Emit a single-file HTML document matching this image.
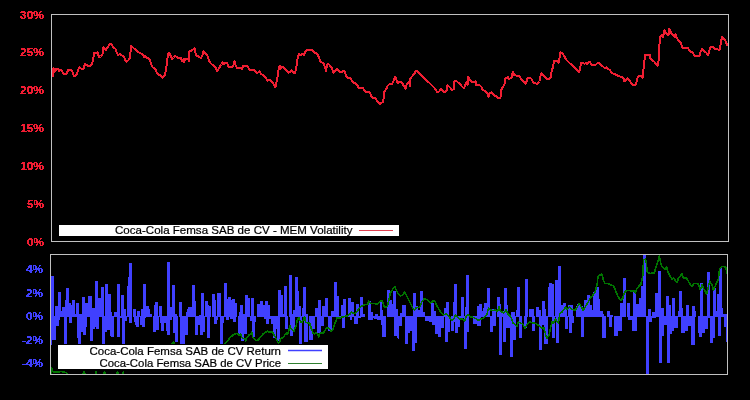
<!DOCTYPE html>
<html><head><meta charset="utf-8">
<style>
html,body{margin:0;padding:0;background:#000;width:750px;height:400px;overflow:hidden;}
svg{position:absolute;left:0;top:0;display:block;will-change:transform;}
.lbl{font-family:"Liberation Sans",sans-serif;font-weight:bold;font-size:11px;}
.leg{font-family:"Liberation Sans",sans-serif;font-size:10.6px;fill:#000;stroke:#000;stroke-width:0.2px;}
</style></head><body>
<svg width="750" height="400" viewBox="0 0 750 400">
<defs>
<filter id="bin" x="0" y="0" width="1" height="1" filterUnits="objectBoundingBox"><feComponentTransfer><feFuncA type="discrete" tableValues="0 1 1"/></feComponentTransfer></filter>
<clipPath id="ct"><rect x="52" y="15" width="676" height="226"/></clipPath>
<clipPath id="cb"><rect x="51" y="255" width="676" height="119"/></clipPath>
</defs>
<rect x="0" y="0" width="750" height="400" fill="#000"/>
<g clip-path="url(#ct)">
<polyline points="52.5,77.5 53,69 53.6,68.3 54.5,72 55.5,70.3 56.5,68.7 58.5,68.7 59.2,71.3 60.8,69.8 62.5,72 64,74 66.5,74 67.5,71.5 68.5,69.6 71,69.6 72.5,72 74,76 75.5,75.5 77,74.5 78,70 79.5,67 81,68.5 83.5,69 85,64 86.5,65 88,66 90.5,66 92,63.5 93,61 94,52.5 95.5,53.5 97.5,52.5 99,57 100.5,56.5 102.5,54 103.5,47 105,49 106,50 108,46.5 110,44 111.5,44.5 113,47 115.5,49 117,53 118,55.5 119.5,54 122,55.5 124,57 125,59.5 126.5,61.5 128,60.5 130,58 131,45.5 132.5,47 134,48.5 136.5,50 138,52 140,53 142.5,54.5 144,57 145,55.5 147,58 147.5,58 149.5,59 150.5,62 152,66.5 153.5,68 155.5,69 156.5,72 158.5,74.5 160.5,75.5 162.5,77.5 164.5,76 166,70 167,62 168,54.5 169.2,52.5 170.5,55.5 171.8,59 173.5,57.5 175,56 177,57 178.5,58 181,58 182,61 183.5,59.5 184,62 185.5,58.5 187.5,58.5 189,61 189.5,51.5 191,51 193,49.5 194.5,48 195,51.5 196.5,55.5 198.5,56.5 201,58 202.5,55 203.5,51.5 205,53.5 207,54.5 208,57.5 209,60.5 210.5,63 212,64.5 214,65.5 215.5,67.5 217,71.5 218.5,69 220,66.5 221.5,64.5 222.5,62 224,64 225.5,62.5 227,62.5 228.5,67 230.5,67 233,66.5 234.5,61.5 235.5,65 237,68 239,67.5 241,67.5 242,69 243,66 246,65.5 248,67 249.5,69.5 252,70 254,70 255.5,72 257.5,73 259.5,71.5 261,74 262,74.4 263.9,75.9 265.75,77.8 267.6,80.6 269.5,79.7 271.4,81.6 273.25,83.4 274.8,86.9 276,85.6 276.7,81.25 277.6,76.9 278.4,71.25 278.75,67.5 279.8,65.6 280.75,68.75 282,66.6 283.6,67.5 285.4,70 286.7,70.6 288.25,72.8 289.8,71.9 291.5,70.5 293,72.5 295,73.5 296,69 297,62.5 298,56.5 299,54 300,55.5 302,54 304,55 305,52 306.5,50.5 308.5,49.5 311.5,49.5 313.5,51.5 315.5,53 317.5,54.5 319,57.5 320,61 322,62.5 324,64 325,67.5 326,71 327,64.5 328,63.5 330,65.5 332,68.5 333.5,72.5 335,71 337,68.5 338,69.5 339.5,71.5 342,72 344,70.5 345.5,74 346.5,77 348,78 350,78 352,80.5 353.5,83 355,83 357,85 359,88 361,87.5 363,88 364.5,90.5 366.5,92 368.4,91.6 369.9,93.1 371,95 371.75,97.25 373.25,98 375.1,98 376.25,99.5 377.75,101.75 379.6,104 381.1,103.25 382.6,102.1 383.4,100.25 383.75,95.75 384.5,91.25 385.25,90.5 386.75,88.25 387.5,86 389.5,84 391.5,84.5 393,82.5 394,79 395,76.5 396,78.5 397,81.5 398,83 400,81.5 401.5,82 403,84.5 404.5,87 405.5,89 406.5,85 408,82.5 409,81.5 410,86 410.5,78.5 412,76.5 414,74 416,71 417,70.5 418.5,72.5 420.5,74 422.5,76.5 424.5,79 426.5,80.5 428.5,82 430.5,84 433,86.5 435,88.5 437,92 439,91.5 441,89 442.5,90 444,92 446,91.5 447,90 447.5,85.5 449,86.5 450.5,88 452,90 454,89 454.5,81 456,80.5 457.5,82 460,84 462,86.5 464,88.5 465.5,84.5 466.5,82 467.5,85 468,76.5 469.5,79 471,81 473,82.5 475.5,81.5 476,85 478,84.5 480,85.5 481.5,87 482.5,89.5 484,90.5 486,92 487.5,94 488.5,96.5 489.5,93 491.5,92.5 493,94 494.5,95.5 496.5,96.5 498.5,98 500.5,97.5 501,91 502,88 503.5,86 505,83 505.5,78.5 507,77.5 508,76.5 508.5,79 510,78.5 511.5,78 512,74.5 513,72 514,75 516,75.5 518.5,75.5 520,77.5 522,80 524,81.5 525.5,84 526.5,81.5 527.5,78 529,77.5 531,78.5 532,79.5 533,82.5 535.5,83.5 538,83.5 539.5,81.5 540,77.5 541.5,73 543,74.5 544.5,77 546.5,78.5 548.5,79 550.5,78 551,74 552,70.5 553,66.5 554,61 555.5,61 557.5,61 558.5,62.5 559.5,58 560.5,52.5 562,53 563.5,55 565,57.5 566.5,60 568.5,62 570.5,64 572.5,65.5 574,67 576,69 578,70.5 579,72.5 580,69.5 581,62.5 583,62.5 584.5,64 586,62.5 587,64 589,61.5 590,62 591,64.5 593,65 595.5,65 597.5,63 599,63 601,65 603,66.5 604.5,68 606.5,67.5 608,69 610,70 611,72.5 613,73.5 615.5,74.5 617.5,75.5 619.5,76.5 621.5,76.5 623.5,78.5 624.5,81.5 626,80 627.5,78.5 629,80 630.5,82 632.5,84.5 634.5,85 636,84.5 637,80 638,76.5 640,75.5 641.5,76 642.5,78 643,72 644,66 644.5,60 645,55 647,54.5 649.5,54.5 650.5,58.5 652,60 654,61.5 656,64 657.5,65.5 658.5,61 659,54 659.5,44 660.5,36 662,35 663,37 664.5,30.5 665.5,32.5 667,34.5 668.5,35 669,28.5 670,29.5 671,33 673,35 675,37.5 675.5,34 676.5,37.5 678.5,40.5 680.5,42.5 681.5,45 682.5,48 685,47.5 687.5,47.5 689,50 690.5,52 692.5,52 694.5,55.5 696.5,56 699.5,55.5 700.5,52 702,49 704,51 706,52.5 708,55 709,52 710.5,47 712,46.5 713.5,47.5 715.5,49 717.5,49.5 719.5,49.5 720.5,45 721,42.5 722,36.5 723.5,38.5 725.5,41 727,44.5 727.5,46" fill="none" stroke="#f01e32" stroke-width="2.0" stroke-linejoin="round" shape-rendering="crispEdges"/>
</g>
<g clip-path="url(#cb)">
<g fill="#4040ff" shape-rendering="crispEdges">
<rect x="51" y="276" width="3" height="41"/>
<rect x="55" y="306" width="3" height="11"/>
<rect x="58" y="292" width="3" height="25"/>
<rect x="61" y="311" width="1" height="6"/>
<rect x="62" y="307" width="3" height="10"/>
<rect x="65" y="300" width="1" height="17"/>
<rect x="66" y="288" width="3" height="29"/>
<rect x="69" y="303" width="2" height="14"/>
<rect x="71" y="305" width="1" height="12"/>
<rect x="72" y="300" width="3" height="17"/>
<rect x="75" y="314" width="1" height="3"/>
<rect x="76" y="303" width="3" height="14"/>
<rect x="79" y="314" width="3" height="3"/>
<rect x="82" y="297" width="3" height="20"/>
<rect x="85" y="303" width="3" height="14"/>
<rect x="88" y="296" width="4" height="21"/>
<rect x="92" y="308" width="3" height="9"/>
<rect x="95" y="281" width="3" height="36"/>
<rect x="98" y="298" width="3" height="19"/>
<rect x="101" y="287" width="3" height="30"/>
<rect x="105" y="284" width="3" height="33"/>
<rect x="108" y="294" width="3" height="23"/>
<rect x="111" y="312" width="1" height="5"/>
<rect x="114" y="312" width="3" height="5"/>
<rect x="117" y="284" width="3" height="33"/>
<rect x="121" y="295" width="3" height="22"/>
<rect x="124" y="309" width="2" height="8"/>
<rect x="127" y="286" width="1" height="31"/>
<rect x="128" y="277" width="1" height="40"/>
<rect x="129" y="263" width="3" height="54"/>
<rect x="133" y="309" width="3" height="8"/>
<rect x="137" y="311" width="3" height="6"/>
<rect x="141" y="309" width="2" height="8"/>
<rect x="143" y="284" width="3" height="33"/>
<rect x="146" y="306" width="3" height="11"/>
<rect x="149" y="309" width="1" height="8"/>
<rect x="150" y="314" width="2" height="3"/>
<rect x="154" y="305" width="1" height="12"/>
<rect x="155" y="302" width="3" height="15"/>
<rect x="159" y="306" width="3" height="11"/>
<rect x="167" y="262" width="3" height="55"/>
<rect x="170" y="307" width="2" height="10"/>
<rect x="172" y="285" width="3" height="32"/>
<rect x="175" y="314" width="2" height="3"/>
<rect x="179" y="302" width="3" height="15"/>
<rect x="186" y="312" width="1" height="5"/>
<rect x="187" y="309" width="1" height="8"/>
<rect x="188" y="307" width="4" height="10"/>
<rect x="192" y="285" width="3" height="32"/>
<rect x="195" y="301" width="1" height="16"/>
<rect x="199" y="315" width="2" height="2"/>
<rect x="201" y="293" width="3" height="24"/>
<rect x="205" y="301" width="3" height="16"/>
<rect x="208" y="305" width="1" height="12"/>
<rect x="209" y="306" width="2" height="11"/>
<rect x="212" y="294" width="3" height="23"/>
<rect x="215" y="300" width="1" height="17"/>
<rect x="217" y="293" width="4" height="24"/>
<rect x="224" y="283" width="3" height="34"/>
<rect x="227" y="299" width="1" height="18"/>
<rect x="228" y="297" width="3" height="20"/>
<rect x="231" y="300" width="1" height="17"/>
<rect x="232" y="299" width="3" height="18"/>
<rect x="235" y="303" width="2" height="14"/>
<rect x="239" y="312" width="1" height="5"/>
<rect x="240" y="305" width="3" height="12"/>
<rect x="243" y="314" width="2" height="3"/>
<rect x="245" y="295" width="3" height="22"/>
<rect x="248" y="298" width="2" height="19"/>
<rect x="251" y="298" width="3" height="19"/>
<rect x="257" y="304" width="3" height="13"/>
<rect x="260" y="301" width="3" height="16"/>
<rect x="263" y="305" width="2" height="12"/>
<rect x="265" y="301" width="3" height="16"/>
<rect x="268" y="305" width="2" height="12"/>
<rect x="278" y="290" width="3" height="27"/>
<rect x="281" y="295" width="2" height="22"/>
<rect x="283" y="314" width="1" height="3"/>
<rect x="284" y="286" width="3" height="31"/>
<rect x="289" y="275" width="3" height="42"/>
<rect x="292" y="314" width="1" height="3"/>
<rect x="293" y="310" width="2" height="7"/>
<rect x="295" y="277" width="3" height="40"/>
<rect x="298" y="291" width="1" height="26"/>
<rect x="299" y="306" width="2" height="11"/>
<rect x="302" y="308" width="1" height="9"/>
<rect x="303" y="287" width="3" height="30"/>
<rect x="306" y="314" width="2" height="3"/>
<rect x="315" y="308" width="3" height="9"/>
<rect x="318" y="300" width="3" height="17"/>
<rect x="322" y="306" width="3" height="11"/>
<rect x="325" y="298" width="3" height="19"/>
<rect x="331" y="311" width="3" height="6"/>
<rect x="334" y="282" width="3" height="35"/>
<rect x="337" y="296" width="2" height="21"/>
<rect x="341" y="305" width="2" height="12"/>
<rect x="343" y="299" width="3" height="18"/>
<rect x="348" y="298" width="3" height="19"/>
<rect x="351" y="302" width="3" height="15"/>
<rect x="356" y="304" width="3" height="13"/>
<rect x="360" y="297" width="3" height="20"/>
<rect x="363" y="314" width="2" height="3"/>
<rect x="368" y="301" width="3" height="16"/>
<rect x="371" y="312" width="2" height="5"/>
<rect x="375" y="314" width="3" height="3"/>
<rect x="380" y="302" width="2" height="15"/>
<rect x="382" y="310" width="1" height="7"/>
<rect x="387" y="290" width="3" height="27"/>
<rect x="390" y="300" width="2" height="17"/>
<rect x="392" y="304" width="1" height="13"/>
<rect x="393" y="291" width="3" height="26"/>
<rect x="396" y="309" width="2" height="8"/>
<rect x="400" y="313" width="2" height="4"/>
<rect x="402" y="305" width="4" height="12"/>
<rect x="413" y="293" width="3" height="24"/>
<rect x="416" y="306" width="2" height="11"/>
<rect x="418" y="310" width="2" height="7"/>
<rect x="420" y="291" width="3" height="26"/>
<rect x="423" y="312" width="2" height="5"/>
<rect x="431" y="303" width="3" height="14"/>
<rect x="434" y="311" width="2" height="6"/>
<rect x="444" y="308" width="2" height="9"/>
<rect x="446" y="302" width="3" height="15"/>
<rect x="453" y="302" width="1" height="15"/>
<rect x="454" y="284" width="3" height="33"/>
<rect x="461" y="297" width="3" height="20"/>
<rect x="465" y="307" width="1" height="10"/>
<rect x="466" y="275" width="3" height="42"/>
<rect x="477" y="306" width="2" height="11"/>
<rect x="479" y="304" width="3" height="13"/>
<rect x="482" y="311" width="1" height="6"/>
<rect x="483" y="308" width="1" height="9"/>
<rect x="484" y="303" width="3" height="14"/>
<rect x="487" y="288" width="3" height="29"/>
<rect x="492" y="309" width="4" height="8"/>
<rect x="497" y="297" width="3" height="20"/>
<rect x="500" y="304" width="1" height="13"/>
<rect x="501" y="311" width="3" height="6"/>
<rect x="504" y="288" width="3" height="29"/>
<rect x="507" y="305" width="1" height="12"/>
<rect x="511" y="312" width="4" height="5"/>
<rect x="516" y="310" width="1" height="7"/>
<rect x="517" y="287" width="3" height="30"/>
<rect x="525" y="279" width="3" height="38"/>
<rect x="529" y="309" width="5" height="8"/>
<rect x="536" y="307" width="3" height="10"/>
<rect x="539" y="310" width="2" height="7"/>
<rect x="542" y="301" width="3" height="16"/>
<rect x="545" y="309" width="1" height="8"/>
<rect x="548" y="287" width="1" height="30"/>
<rect x="549" y="283" width="3" height="34"/>
<rect x="552" y="284" width="2" height="33"/>
<rect x="555" y="280" width="3" height="37"/>
<rect x="558" y="266" width="3" height="51"/>
<rect x="561" y="305" width="2" height="12"/>
<rect x="563" y="303" width="3" height="14"/>
<rect x="566" y="307" width="1" height="10"/>
<rect x="568" y="305" width="5" height="12"/>
<rect x="576" y="306" width="1" height="11"/>
<rect x="577" y="304" width="4" height="13"/>
<rect x="581" y="306" width="2" height="11"/>
<rect x="583" y="310" width="1" height="7"/>
<rect x="584" y="300" width="3" height="17"/>
<rect x="587" y="295" width="3" height="22"/>
<rect x="590" y="305" width="2" height="12"/>
<rect x="592" y="310" width="1" height="7"/>
<rect x="593" y="292" width="3" height="25"/>
<rect x="596" y="286" width="1" height="31"/>
<rect x="597" y="287" width="2" height="30"/>
<rect x="599" y="299" width="1" height="18"/>
<rect x="600" y="311" width="3" height="6"/>
<rect x="603" y="314" width="1" height="3"/>
<rect x="607" y="311" width="3" height="6"/>
<rect x="610" y="315" width="3" height="2"/>
<rect x="620" y="303" width="3" height="14"/>
<rect x="623" y="278" width="3" height="39"/>
<rect x="627" y="303" width="3" height="14"/>
<rect x="633" y="292" width="3" height="25"/>
<rect x="636" y="304" width="3" height="13"/>
<rect x="639" y="298" width="2" height="19"/>
<rect x="641" y="286" width="2" height="31"/>
<rect x="643" y="255" width="3" height="62"/>
<rect x="648" y="309" width="3" height="8"/>
<rect x="652" y="312" width="3" height="5"/>
<rect x="655" y="293" width="3" height="24"/>
<rect x="658" y="271" width="3" height="46"/>
<rect x="661" y="308" width="3" height="9"/>
<rect x="666" y="296" width="3" height="21"/>
<rect x="669" y="305" width="2" height="12"/>
<rect x="672" y="298" width="3" height="19"/>
<rect x="678" y="311" width="1" height="6"/>
<rect x="679" y="291" width="3" height="26"/>
<rect x="682" y="308" width="1" height="9"/>
<rect x="686" y="305" width="3" height="12"/>
<rect x="692" y="306" width="3" height="11"/>
<rect x="695" y="311" width="1" height="6"/>
<rect x="700" y="283" width="3" height="34"/>
<rect x="707" y="272" width="3" height="45"/>
<rect x="713" y="288" width="3" height="29"/>
<rect x="716" y="311" width="1" height="6"/>
<rect x="717" y="294" width="2" height="23"/>
<rect x="719" y="268" width="3" height="49"/>
<rect x="722" y="308" width="1" height="9"/>
<rect x="723" y="314" width="4" height="3"/>
<rect x="51" y="316" width="1" height="29"/>
<rect x="52" y="316" width="4" height="24"/>
<rect x="56" y="316" width="3" height="10"/>
<rect x="59" y="316" width="1" height="4"/>
<rect x="64" y="316" width="3" height="28"/>
<rect x="69" y="316" width="3" height="7"/>
<rect x="77" y="316" width="1" height="22"/>
<rect x="78" y="316" width="3" height="28"/>
<rect x="81" y="316" width="2" height="16"/>
<rect x="83" y="316" width="3" height="19"/>
<rect x="86" y="316" width="1" height="11"/>
<rect x="90" y="316" width="3" height="25"/>
<rect x="93" y="316" width="2" height="13"/>
<rect x="95" y="316" width="1" height="11"/>
<rect x="96" y="316" width="3" height="13"/>
<rect x="102" y="316" width="3" height="28"/>
<rect x="105" y="316" width="2" height="16"/>
<rect x="107" y="316" width="3" height="14"/>
<rect x="110" y="316" width="1" height="20"/>
<rect x="111" y="316" width="3" height="21"/>
<rect x="117" y="316" width="3" height="21"/>
<rect x="120" y="316" width="2" height="2"/>
<rect x="122" y="316" width="3" height="28"/>
<rect x="125" y="316" width="2" height="5"/>
<rect x="129" y="316" width="3" height="7"/>
<rect x="134" y="316" width="1" height="6"/>
<rect x="135" y="316" width="1" height="9"/>
<rect x="136" y="316" width="3" height="11"/>
<rect x="140" y="316" width="2" height="9"/>
<rect x="142" y="316" width="3" height="11"/>
<rect x="145" y="316" width="1" height="2"/>
<rect x="153" y="316" width="3" height="16"/>
<rect x="156" y="316" width="3" height="14"/>
<rect x="160" y="316" width="1" height="7"/>
<rect x="161" y="316" width="3" height="15"/>
<rect x="164" y="316" width="2" height="7"/>
<rect x="166" y="316" width="1" height="15"/>
<rect x="167" y="316" width="3" height="19"/>
<rect x="170" y="316" width="2" height="4"/>
<rect x="173" y="316" width="2" height="17"/>
<rect x="175" y="316" width="3" height="26"/>
<rect x="180" y="316" width="5" height="28"/>
<rect x="185" y="316" width="3" height="19"/>
<rect x="195" y="316" width="3" height="19"/>
<rect x="198" y="316" width="2" height="9"/>
<rect x="200" y="316" width="3" height="19"/>
<rect x="203" y="316" width="2" height="16"/>
<rect x="207" y="316" width="3" height="22"/>
<rect x="214" y="316" width="3" height="8"/>
<rect x="217" y="316" width="1" height="4"/>
<rect x="220" y="316" width="3" height="28"/>
<rect x="223" y="316" width="1" height="7"/>
<rect x="226" y="316" width="3" height="4"/>
<rect x="230" y="316" width="3" height="3"/>
<rect x="233" y="316" width="3" height="6"/>
<rect x="238" y="316" width="3" height="18"/>
<rect x="241" y="316" width="3" height="25"/>
<rect x="244" y="316" width="3" height="18"/>
<rect x="250" y="316" width="2" height="5"/>
<rect x="252" y="316" width="3" height="21"/>
<rect x="255" y="316" width="1" height="6"/>
<rect x="264" y="316" width="2" height="3"/>
<rect x="266" y="316" width="3" height="8"/>
<rect x="269" y="316" width="2" height="3"/>
<rect x="271" y="316" width="2" height="8"/>
<rect x="273" y="316" width="3" height="22"/>
<rect x="276" y="316" width="1" height="13"/>
<rect x="277" y="316" width="3" height="25"/>
<rect x="285" y="316" width="3" height="13"/>
<rect x="290" y="316" width="3" height="20"/>
<rect x="293" y="316" width="2" height="15"/>
<rect x="299" y="316" width="3" height="28"/>
<rect x="304" y="316" width="4" height="26"/>
<rect x="309" y="316" width="4" height="24"/>
<rect x="313" y="316" width="2" height="13"/>
<rect x="317" y="316" width="4" height="17"/>
<rect x="321" y="316" width="3" height="10"/>
<rect x="328" y="316" width="4" height="15"/>
<rect x="338" y="316" width="4" height="2"/>
<rect x="342" y="316" width="3" height="12"/>
<rect x="350" y="316" width="2" height="4"/>
<rect x="354" y="316" width="4" height="8"/>
<rect x="358" y="316" width="3" height="2"/>
<rect x="368" y="316" width="5" height="4"/>
<rect x="373" y="316" width="1" height="2"/>
<rect x="374" y="316" width="3" height="3"/>
<rect x="377" y="316" width="4" height="4"/>
<rect x="381" y="316" width="1" height="9"/>
<rect x="382" y="316" width="4" height="21"/>
<rect x="394" y="316" width="3" height="20"/>
<rect x="397" y="316" width="1" height="22"/>
<rect x="398" y="316" width="1" height="23"/>
<rect x="399" y="316" width="3" height="10"/>
<rect x="405" y="316" width="3" height="28"/>
<rect x="408" y="316" width="2" height="17"/>
<rect x="410" y="316" width="2" height="15"/>
<rect x="412" y="316" width="3" height="35"/>
<rect x="415" y="316" width="2" height="27"/>
<rect x="425" y="316" width="4" height="5"/>
<rect x="429" y="316" width="3" height="6"/>
<rect x="432" y="316" width="3" height="9"/>
<rect x="435" y="316" width="3" height="18"/>
<rect x="438" y="316" width="3" height="21"/>
<rect x="441" y="316" width="3" height="12"/>
<rect x="445" y="316" width="3" height="26"/>
<rect x="448" y="316" width="2" height="16"/>
<rect x="451" y="316" width="3" height="15"/>
<rect x="454" y="316" width="1" height="6"/>
<rect x="455" y="316" width="3" height="17"/>
<rect x="458" y="316" width="2" height="11"/>
<rect x="460" y="316" width="4" height="2"/>
<rect x="464" y="316" width="3" height="33"/>
<rect x="467" y="316" width="2" height="16"/>
<rect x="473" y="316" width="4" height="8"/>
<rect x="477" y="316" width="4" height="10"/>
<rect x="490" y="316" width="3" height="16"/>
<rect x="493" y="316" width="3" height="10"/>
<rect x="499" y="316" width="3" height="39"/>
<rect x="503" y="316" width="3" height="26"/>
<rect x="506" y="316" width="4" height="12"/>
<rect x="510" y="316" width="3" height="41"/>
<rect x="513" y="316" width="3" height="24"/>
<rect x="519" y="316" width="3" height="22"/>
<rect x="524" y="316" width="3" height="12"/>
<rect x="532" y="316" width="3" height="15"/>
<rect x="539" y="316" width="3" height="34"/>
<rect x="542" y="316" width="2" height="9"/>
<rect x="544" y="316" width="4" height="28"/>
<rect x="552" y="316" width="3" height="22"/>
<rect x="556" y="316" width="3" height="27"/>
<rect x="565" y="316" width="3" height="13"/>
<rect x="569" y="316" width="3" height="17"/>
<rect x="572" y="316" width="2" height="7"/>
<rect x="581" y="316" width="3" height="21"/>
<rect x="602" y="316" width="4" height="22"/>
<rect x="609" y="316" width="3" height="11"/>
<rect x="614" y="316" width="4" height="20"/>
<rect x="618" y="316" width="4" height="15"/>
<rect x="628" y="316" width="4" height="4"/>
<rect x="632" y="316" width="5" height="15"/>
<rect x="646" y="316" width="3" height="58"/>
<rect x="649" y="316" width="3" height="6"/>
<rect x="652" y="316" width="4" height="2"/>
<rect x="659" y="316" width="3" height="47"/>
<rect x="662" y="316" width="2" height="20"/>
<rect x="664" y="316" width="3" height="9"/>
<rect x="667" y="316" width="3" height="47"/>
<rect x="670" y="316" width="2" height="18"/>
<rect x="672" y="316" width="2" height="15"/>
<rect x="674" y="316" width="4" height="12"/>
<rect x="681" y="316" width="4" height="17"/>
<rect x="685" y="316" width="3" height="15"/>
<rect x="688" y="316" width="3" height="10"/>
<rect x="691" y="316" width="4" height="29"/>
<rect x="698" y="316" width="1" height="17"/>
<rect x="699" y="316" width="3" height="21"/>
<rect x="702" y="316" width="3" height="17"/>
<rect x="705" y="316" width="3" height="13"/>
<rect x="708" y="316" width="2" height="2"/>
<rect x="710" y="316" width="3" height="27"/>
<rect x="713" y="316" width="2" height="22"/>
<rect x="718" y="316" width="3" height="20"/>
<rect x="724" y="316" width="2" height="11"/>
<rect x="726" y="316" width="1" height="26"/>
</g>
<polyline points="51,374 51.6,368 52.5,371.5 55,372 58,372 61,371.5 64,372 66.5,373 69,376 82,376 84,372 86,376 94.5,376 96,372 97.5,376 103,376 104.5,372 106,376 116,376 117.5,372 119,376 122,376 123.5,372 126,364 135,358 150,354 165,350 171,345 173.5,342.3 176,346 185,356 200,360 212,355 220,349 224.8,343.6 228.8,339.6 230,337.2 231.7,336.4 233.3,334.7 235,333.9 236.2,333.3 237.9,333.7 239.1,335.6 240.7,333.9 241.6,336.8 243.2,338.4 244.9,338.4 245.7,340.9 246.5,338 248.2,336 249.8,334.3 251,333.9 251.9,332.2 252.7,336.8 254.4,339.3 256,340.5 258.1,340.1 259.8,338 261.4,336 263,333.9 264.7,332.7 266.4,331.8 267.6,331 268.8,331.8 271.3,331.8 272.6,331.8 273.8,334.7 275.5,337.6 277.1,340.9 278.3,343 279.6,342.2 280.4,338.9 282.1,338 283.7,337.2 285,334.7 286.2,333.1 287.4,334.3 288.7,331 289.9,325.6 290.8,328.1 292.5,330.2 293.7,331.4 295,328.5 296.2,325.2 297.4,319.9 299.1,317.4 299.9,320.3 301.2,322.3 302.4,321.9 303.6,319 304.5,316.5 305.7,322.3 307.4,322.7 309.4,322.7 310.7,326.5 311.9,330.2 313.1,333.5 314.8,333.9 316.4,332.7 317.7,333.9 318.9,336.8 319.3,333.9 321,332.7 323.1,333.5 324.7,331 326.4,328.1 328,327.7 329.3,328.9 330.9,331 332.6,329.8 334.2,325.6 335.9,321.1 337.1,317.8 338.8,317.8 340.4,318.2 341.7,317 343.7,317 345.4,316.1 347.9,315.7 349.5,314.5 351.5,312.1 354.6,313.7 357.7,310.6 360,307.5 363.1,305.2 365.5,304.4 367.8,304.4 368.6,301.3 370.9,303.3 373.2,303.6 377.1,303.9 379.4,302.1 381.7,300.5 383.3,303.6 384.1,306.7 387.2,306.7 389.5,297.4 390,293.5 391.6,291.2 393.1,288.1 394.7,286.6 396.2,289.7 397.8,293.5 400.1,295.9 402.4,295.1 404.7,292 406.3,295.1 408.6,299.7 410.9,304.4 413.3,309 414.8,309.8 416.4,307.5 418.7,307.5 420.2,306.7 421.8,302.1 424.1,299 427.2,299.7 430.3,302.8 431.9,302.1 433.4,300.5 435,301.3 436.5,305.2 438.8,309 441.2,312.9 443.5,315.2 445.8,313.7 447.4,315.2 449.2,316.7 451.5,320.5 453.8,319 455.4,315.1 457.7,317.4 460,319 462.4,319 464.7,321.3 466.2,316.7 467.8,314.3 470.1,316.7 473.2,317.4 476.3,319 478.6,320.5 481,319 483.3,318.2 485.6,315.9 487.2,313.6 488.5,308 490.5,309.8 492.8,310.6 495.2,309.8 497.5,311.4 499,306.7 500.6,311.4 503.7,313 506,309.8 507.6,313.7 509.9,316 511.3,318.2 512.8,322.9 515.1,324.4 516.7,326.7 518.2,322.1 520.6,322.9 522.9,324.4 525.2,328.3 527.5,323.6 529.9,322.1 533,322.9 536.1,323.6 538.4,325.2 541.5,328.3 543.8,327.5 545.4,333.7 546.9,338.4 549.2,334.5 550.8,326.7 552.3,321.3 553.9,322.9 555.4,319 557,321.3 558.5,322.9 559.7,313.5 561.7,312.3 563.8,309.8 565.4,306.9 566.3,309 567.9,308.6 569.6,306.9 571.2,309 572.9,309.8 575.4,309.8 577,307.3 579.1,303.6 580.3,305.2 582,307.7 583.2,310.2 584.9,307.7 586.5,304.8 588.6,301.5 590.6,297.4 592.7,295.7 594.4,292.9 595.6,290.8 596.4,286.7 597.3,283 598,276.5 600.3,274.9 601.9,274.2 603.4,280.4 605,283.5 608.1,283.5 610.4,285 613.5,285.8 615.8,291.2 618.1,296.6 620.5,300.5 622.8,298.2 624.3,292.8 626.7,290.4 629,290.4 631.3,291.2 633.6,290.4 635.2,292.8 636.7,288.9 639.1,285.8 640.8,284.5 642.7,276.5 643.6,260 645.4,259 646.3,263 647.2,272 648,272.5 650,273.4 654.4,273 655.8,267.5 658,261.2 659.4,255.8 660.3,261.2 661.6,265.7 663,267.5 665.2,269.3 666.6,266.6 667.9,272 669.7,275.6 672,279.2 673.8,277.9 675.6,281 677,282.8 678.7,277.4 680.2,276.5 681.8,273.4 683.3,278 686.4,278 688.7,281.9 691.8,286.6 694.2,283.5 698,283.5 700.4,290.4 701.9,285 704.2,289.7 706.6,294.3 708.1,288.1 709.7,281.1 712,285 713.5,290.4 715.9,284.2 718.2,279.6 719.7,268.7 722.1,266.4 724.4,266.4 725.9,268 727.5,274.2" fill="none" stroke="#007400" stroke-width="1.6" stroke-linejoin="round" shape-rendering="crispEdges"/>
</g>
<!-- frames -->
<rect x="51.5" y="14.5" width="677" height="227" fill="none" stroke="#c0c0c0" stroke-width="1" shape-rendering="crispEdges"/>
<rect x="50.5" y="254.5" width="677" height="120" fill="none" stroke="#c0c0c0" stroke-width="1" shape-rendering="crispEdges"/>
<g class="lbl" fill="#f01e32" text-anchor="end" filter="url(#bin)">
<text x="44" y="19" textLength="24" lengthAdjust="spacingAndGlyphs">30%</text>
<text x="44" y="56" textLength="24" lengthAdjust="spacingAndGlyphs">25%</text>
<text x="44" y="94" textLength="24" lengthAdjust="spacingAndGlyphs">20%</text>
<text x="44" y="132" textLength="24" lengthAdjust="spacingAndGlyphs">15%</text>
<text x="44" y="170" textLength="24" lengthAdjust="spacingAndGlyphs">10%</text>
<text x="44" y="208" textLength="17" lengthAdjust="spacingAndGlyphs">5%</text>
<text x="44" y="246" textLength="17" lengthAdjust="spacingAndGlyphs">0%</text>
</g>
<g class="lbl" fill="#4040ff" text-anchor="end" filter="url(#bin)">
<text x="43" y="273" textLength="17" lengthAdjust="spacingAndGlyphs">4%</text>
<text x="43" y="296.5" textLength="17" lengthAdjust="spacingAndGlyphs">2%</text>
<text x="43" y="320" textLength="17" lengthAdjust="spacingAndGlyphs">0%</text>
<text x="43" y="343.5" textLength="21" lengthAdjust="spacingAndGlyphs">-2%</text>
<text x="43" y="367" textLength="21" lengthAdjust="spacingAndGlyphs">-4%</text>
</g>
<!-- top legend -->
<rect x="59" y="225" width="340" height="11" fill="#fff"/>
<text class="leg" x="115" y="233.6" textLength="237.5" lengthAdjust="spacingAndGlyphs">Coca-Cola Femsa SAB de CV - MEM Volatility</text>
<line x1="359" y1="230.5" x2="393" y2="230.5" stroke="#e04050" stroke-width="1"/>
<!-- bottom legend -->
<rect x="53" y="344" width="281" height="27" fill="#000"/>
<rect x="58" y="345" width="270" height="24" fill="#fff"/>
<text class="leg" x="89.5" y="354.6" textLength="191.5" lengthAdjust="spacingAndGlyphs">Coca-Cola Femsa SAB de CV Return</text>
<text class="leg" x="99.5" y="367.2" textLength="181.5" lengthAdjust="spacingAndGlyphs">Coca-Cola Femsa SAB de CV Price</text>
<line x1="288" y1="350.5" x2="322" y2="350.5" stroke="#4040ff" stroke-width="1.5"/>
<line x1="288" y1="363.5" x2="322" y2="363.5" stroke="#308030" stroke-width="1"/>
</svg>
</body></html>
